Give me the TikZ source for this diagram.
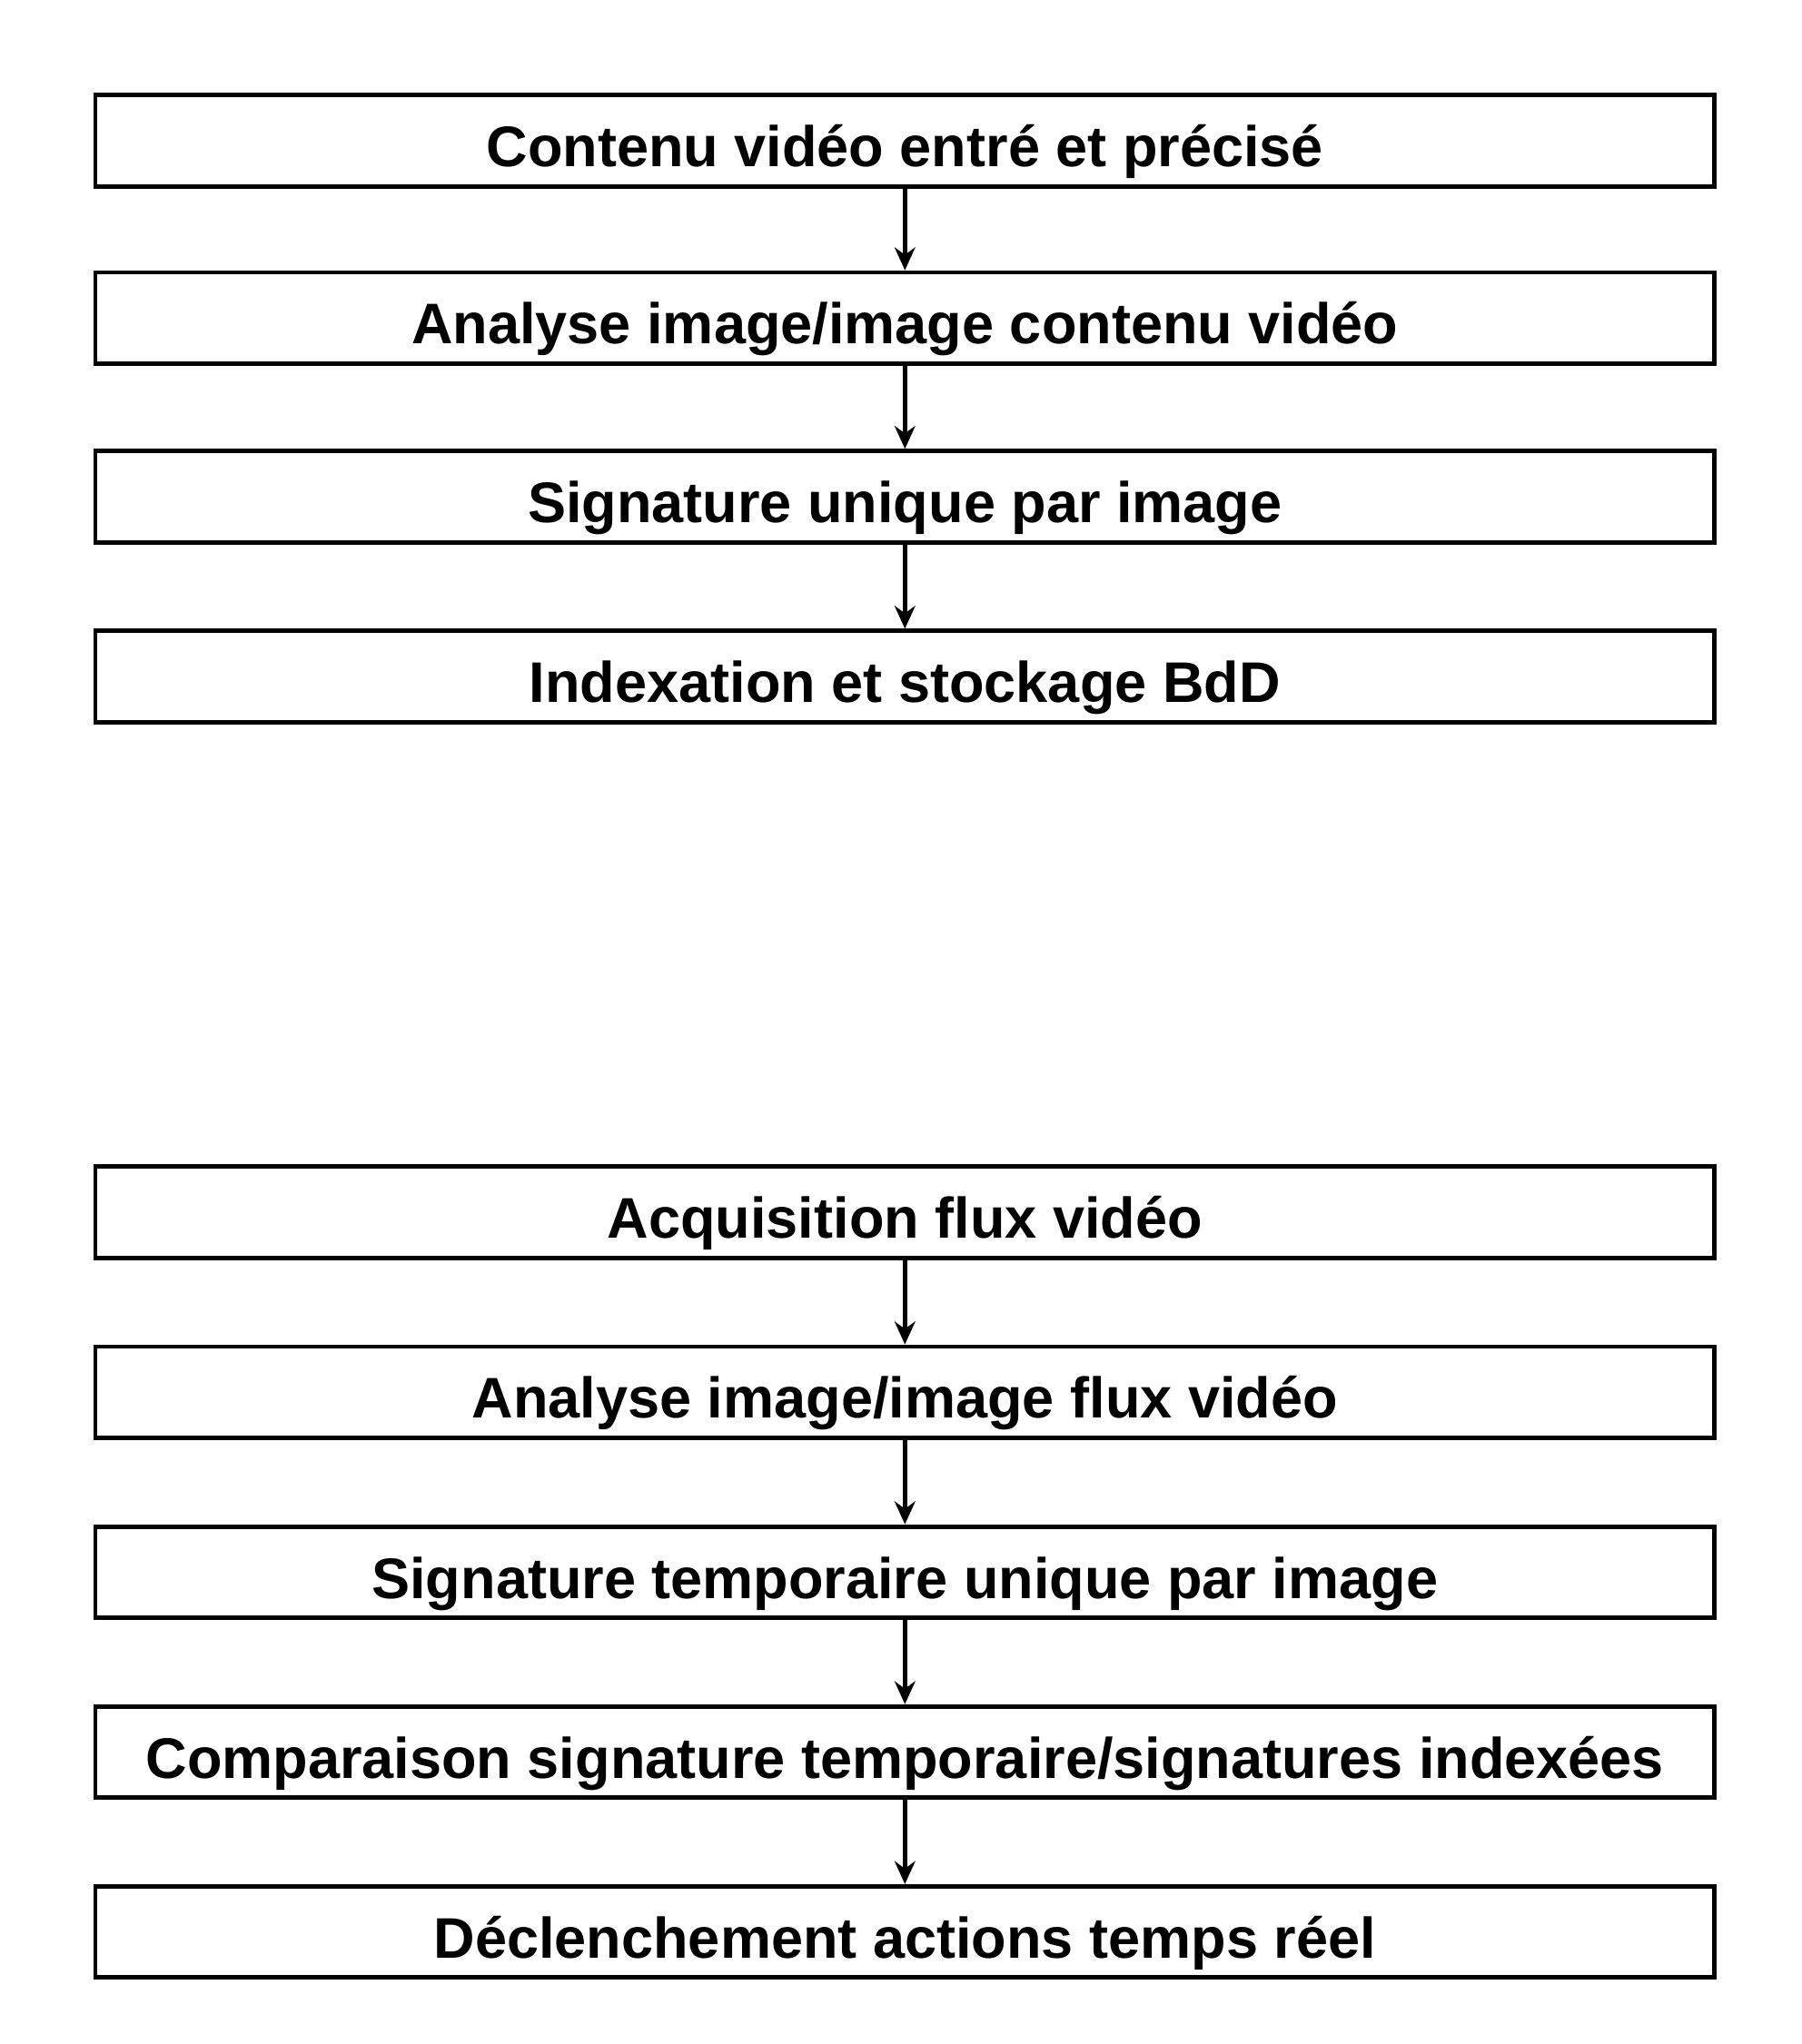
\documentclass[tikz,border=0pt]{standalone}
\usepackage{fontspec}
\setmainfont{Liberation Sans}
\usetikzlibrary{arrows.meta,positioning}
\begin{document}
\begin{tikzpicture}[x=0.02cm,y=-0.02cm,>={Stealth[length=10pt,width=9pt]}]

\tikzset{
  step box/.style = {draw, line width=1.9pt, rectangle, minimum width=24.84cm, minimum height=1.4cm, inner sep=0pt, font=\bfseries\fontsize{25}{28}\selectfont, text depth=0pt, text height=0.8cm},
  flow/.style = {->, line width=2.2pt}
}
\useasboundingbox (0,0) rectangle (1382,1568);

\node[step box] (entree) at (694,108) {Contenu vidéo entré et précisé};
\node[step box] (analyse) at (694,244) {Analyse image/image contenu vidéo};
\node[step box] (signature) at (694,381) {Signature unique par image};
\node[step box] (index) at (694,519) {Indexation et stockage BdD};

\node[step box] (acquis) at (694,930) {Acquisition flux vidéo};
\node[step box] (analflux) at (694,1068) {Analyse image/image flux vidéo};
\node[step box] (sigtemp) at (694,1206) {Signature temporaire unique par image};
\node[step box] (compar) at (694,1344) {Comparaison signature temporaire/signatures indexées};
\node[step box] (action) at (694,1482) {Déclenchement actions temps réel};

\foreach \a/\b in {entree/analyse,analyse/signature,signature/index,acquis/analflux,analflux/sigtemp,sigtemp/compar,compar/action}
  \draw[flow] (\a) -- (\b);
\end{tikzpicture}
\end{document}
